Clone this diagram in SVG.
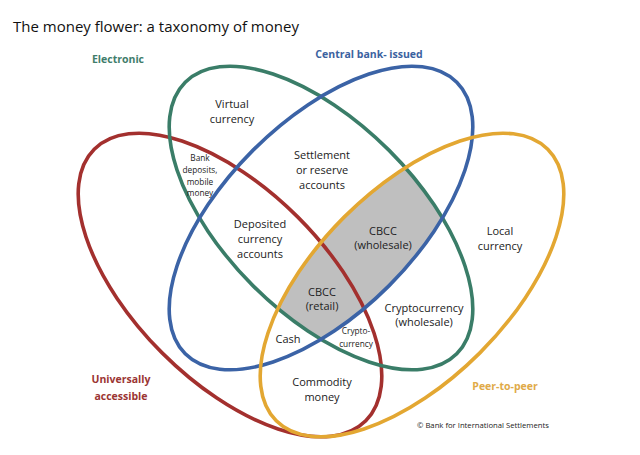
<svg xmlns="http://www.w3.org/2000/svg" width="640" height="455" viewBox="0 0 640 455">
  <defs>
    <style>
      .set { fill: none; stroke-width: 3.6; }
      .t { font-family: "Open Sans", "Noto Sans", sans-serif; font-size: 11px; fill: #222; text-anchor: middle; }
      .s { font-family: "Open Sans", "Noto Sans", sans-serif; font-size: 8.3px; fill: #222; text-anchor: middle; }
      .lab { font-family: "Open Sans", "Noto Sans", sans-serif; font-size: 10.5px; font-weight: bold; text-anchor: middle; }
    </style>
    <clipPath id="clipGreen">
      <ellipse cx="0" cy="0" rx="192" ry="96" transform="translate(321,218) rotate(45)"/>
    </clipPath>
    <clipPath id="clipBlue">
      <ellipse cx="0" cy="0" rx="192" ry="96" transform="translate(321,218) rotate(-45)"/>
    </clipPath>
  </defs>
  <rect width="640" height="455" fill="#ffffff"/>

  <text x="13" y="32" style="font-family: 'Open Sans', 'Noto Sans', sans-serif; font-size: 15px; fill: #111;">The money flower: a taxonomy of money</text>

  <!-- shaded CBCC region: electronic ∩ central bank ∩ peer-to-peer -->
  <g id="cbcc-shade" clip-path="url(#clipGreen)">
    <g clip-path="url(#clipBlue)">
      <ellipse cx="0" cy="0" rx="192" ry="96" transform="translate(412,285) rotate(-45)" fill="#bfbfbf"/>
    </g>
  </g>

  <g id="universally-accessible">
    <ellipse class="set" cx="0" cy="0" rx="192" ry="96" transform="translate(230,285) rotate(45)" stroke="#a3302e"/>
    <text class="lab" fill="#9b3533"><tspan x="121" y="383">Universally</tspan><tspan x="121" y="400">accessible</tspan></text>
  </g>
  <g id="electronic">
    <ellipse class="set" cx="0" cy="0" rx="192" ry="96" transform="translate(321,218) rotate(45)" stroke="#3a7d68"/>
    <text class="lab" x="118" y="63" fill="#3f7d6b">Electronic</text>
  </g>
  <g id="central-bank-issued">
    <ellipse class="set" cx="0" cy="0" rx="192" ry="96" transform="translate(321,218) rotate(-45)" stroke="#3b63a6"/>
    <text class="lab" x="369" y="58" fill="#3b62a0">Central bank- issued</text>
  </g>
  <g id="peer-to-peer">
    <ellipse class="set" cx="0" cy="0" rx="192" ry="96" transform="translate(412,285) rotate(-45)" stroke="#e3a732"/>
    <text class="lab" x="505" y="390" fill="#e0aa48">Peer-to-peer</text>
  </g>

  <g id="virtual-currency"><text class="t"><tspan x="232" y="108">Virtual</tspan><tspan x="232" y="123">currency</tspan></text></g>
  <g id="bank-deposits"><text class="s"><tspan x="200" y="161">Bank</tspan><tspan x="200" y="173">deposits,</tspan><tspan x="200" y="185">mobile</tspan><tspan x="200" y="196">money</tspan></text></g>
  <g id="settlement-accounts"><text class="t"><tspan x="322" y="159">Settlement</tspan><tspan x="322" y="174">or reserve</tspan><tspan x="322" y="189">accounts</tspan></text></g>
  <g id="deposited-currency"><text class="t"><tspan x="260" y="228">Deposited</tspan><tspan x="260" y="243">currency</tspan><tspan x="260" y="258">accounts</tspan></text></g>
  <g id="cbcc-wholesale"><text class="t"><tspan x="383" y="235">CBCC</tspan><tspan x="383" y="249">(wholesale)</tspan></text></g>
  <g id="local-currency"><text class="t"><tspan x="500" y="235">Local</tspan><tspan x="500" y="250">currency</tspan></text></g>
  <g id="cbcc-retail"><text class="t"><tspan x="322" y="296">CBCC</tspan><tspan x="322" y="310">(retail)</tspan></text></g>
  <g id="cryptocurrency-wholesale"><text class="t"><tspan x="424" y="312">Cryptocurrency</tspan><tspan x="424" y="326">(wholesale)</tspan></text></g>
  <g id="cash"><text class="t" x="288" y="343">Cash</text></g>
  <g id="cryptocurrency"><text class="s"><tspan x="356" y="334">Crypto-</tspan><tspan x="356" y="347">currency</tspan></text></g>
  <g id="commodity-money"><text class="t"><tspan x="322" y="386">Commodity</tspan><tspan x="322" y="401">money</tspan></text></g>

  <g id="connectors"></g>

  <text x="417" y="428" style="font-family: 'Open Sans', 'Noto Sans', sans-serif; font-size: 7.7px; fill: #222;">© Bank for International Settlements</text>
</svg>
